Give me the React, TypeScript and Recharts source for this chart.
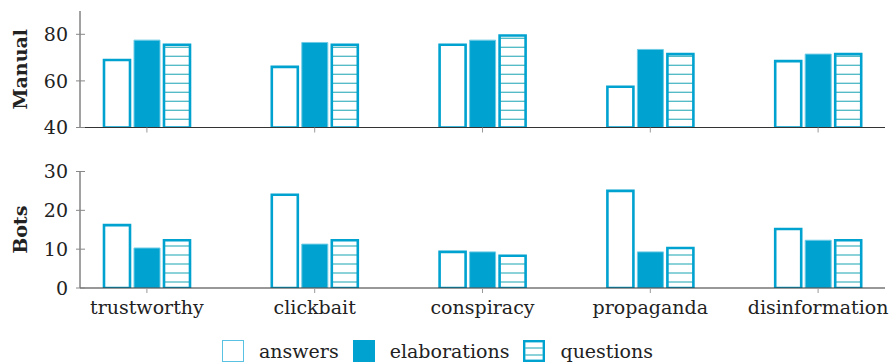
import { BarChart, Bar, XAxis, YAxis } from 'recharts'

const categories = ['trustworthy', 'clickbait', 'conspiracy', 'propaganda', 'disinformation']

const manualAnswers = [69, 66, 75.5, 57.5, 68.5]
const manualElaborations = [77.5, 76.5, 77.5, 73.5, 71.5]
const manualQuestions = [75.5, 75.5, 79.5, 71.5, 71.5]

const botsAnswers = [16.2, 24, 9.3, 25, 15.2]
const botsElaborations = [10.3, 11.3, 9.3, 9.3, 12.3]
const botsQuestions = [12.3, 12.3, 8.3, 10.3, 12.3]

const manualTicks = [40, 60, 80]
const botsTicks = [0, 10, 20, 30]

const seriesNames = ['answers', 'elaborations', 'questions']

const BLUE = '#00a2cf'
const HATCH = '#4cb8c4'
const FONT = '"DejaVu Serif", serif'
const TEXT = '#222'

const toRows = (a: number[], e: number[], q: number[]) =>
  categories.map((name, i) => ({ name, answers: a[i], elaborations: e[i], questions: q[i] }))

const manualRows = toRows(manualAnswers, manualElaborations, manualQuestions)
const botsRows = toRows(botsAnswers, botsElaborations, botsQuestions)

function XTick({ x, y, payload, showLabel }: any) {
  return (
    <g>
      <line x1={x} x2={x} y1={y} y2={y + 5} stroke="#999" />
      {showLabel && (
        <text x={x} y={y + 26} textAnchor="middle" fill={TEXT} fontFamily={FONT} fontSize={19}>
          {payload.value}
        </text>
      )}
    </g>
  )
}

function LeftTick({ x, y, payload }: any) {
  return (
    <g>
      <line x1={x - 4} x2={x + 5} y1={y} y2={y} stroke="#888" />
      <text x={x - 12} y={y} dy="0.35em" textAnchor="end" fill={TEXT} fontFamily={FONT} fontSize={19}>
        {payload.value}
      </text>
    </g>
  )
}

function RightTick({ x, y }: any) {
  return <line x1={x - 5} x2={x + 5} y1={y} y2={y} stroke="#888" />
}

interface PanelProps {
  id: string
  title: string
  rows: typeof manualRows
  domain: [number, number]
  ticks: number[]
  height: number
  marginTop: number
  axisHeight: number
  showLabels: boolean
  hatchOffset: number
}

function Panel({ id, title, rows, domain, ticks, height, marginTop, axisHeight, showLabels, hatchOffset }: PanelProps) {
  const plotMid = marginTop + (height - marginTop - axisHeight) / 2
  return (
    <BarChart
      width={894}
      height={height}
      data={rows}
      margin={{ top: marginTop, right: 9, bottom: 0, left: 0 }}
      barSize={26}
      barGap={4}
    >
      <defs>
        <pattern id={`hatch-${id}`} patternUnits="userSpaceOnUse" width={10} height={9}>
          <rect width={10} height={9} fill="#fff" />
          <line x1={0} x2={10} y1={hatchOffset} y2={hatchOffset} stroke={HATCH} strokeWidth={1.3} />
        </pattern>
      </defs>
      <text
        x={20}
        y={plotMid}
        transform={`rotate(-90 20 ${plotMid})`}
        textAnchor="middle"
        dominantBaseline="central"
        fontFamily={FONT}
        fontWeight="bold"
        fontSize={19}
        fill={TEXT}
      >
        {title}
      </text>
      <XAxis
        dataKey="name"
        height={axisHeight}
        padding={{ left: -17, right: -17 }}
        axisLine={{ stroke: '#333', strokeWidth: 1.2 }}
        tickLine={false}
        tickSize={0}
        tickMargin={0}
        interval={0}
        tick={(p: any) => <XTick {...p} showLabel={showLabels} />}
      />
      <XAxis
        xAxisId="top"
        orientation="top"
        dataKey="name"
        height={0}
        tick={false}
        tickLine={false}
        axisLine={{ stroke: '#666' }}
      />
      <YAxis
        type="number"
        domain={domain}
        ticks={ticks}
        width={80}
        allowDataOverflow
        axisLine={{ stroke: '#444' }}
        tickLine={false}
        tickSize={0}
        tickMargin={0}
        tick={LeftTick}
      />
      <YAxis
        yAxisId="right"
        orientation="right"
        type="number"
        domain={domain}
        ticks={ticks}
        width={0}
        allowDataOverflow
        axisLine={{ stroke: '#555' }}
        tickLine={false}
        tickSize={0}
        tickMargin={0}
        tick={RightTick}
      />
      <Bar dataKey="answers" fill="#fff" stroke={BLUE} strokeWidth={2.6} isAnimationActive={false} />
      <Bar dataKey="elaborations" fill={BLUE} stroke="#6fcbe5" strokeWidth={1} isAnimationActive={false} />
      <Bar dataKey="questions" fill={`url(#hatch-${id})`} stroke={BLUE} strokeWidth={2.6} isAnimationActive={false} />
    </BarChart>
  )
}

function LegendSwatch({ kind }: { kind: string }) {
  return (
    <svg width={22} height={22} style={{ display: 'block' }}>
      {kind === 'answers' && <rect x={0.5} y={0.5} width={21} height={21} fill="#fff" stroke="#59c2e2" />}
      {kind === 'elaborations' && <rect x={0} y={0} width={22} height={22} fill={BLUE} />}
      {kind === 'questions' && (
        <g>
          <rect x={1.2} y={1.2} width={19.6} height={19.6} fill="#fff" stroke={BLUE} strokeWidth={2.4} />
          <line x1={2} x2={20} y1={8} y2={8} stroke={HATCH} strokeWidth={1.3} />
          <line x1={2} x2={20} y1={15} y2={15} stroke={HATCH} strokeWidth={1.3} />
        </g>
      )}
    </svg>
  )
}

export default function App() {
  return (
    <div style={{ position: 'absolute', left: 0, top: 0, width: 894, height: 362, background: '#fff' }}>
      <div style={{ position: 'absolute', left: 0, top: 0 }}>
        <Panel
          id="manual"
          title="Manual"
          rows={manualRows}
          domain={[40, 90]}
          ticks={manualTicks}
          height={140}
          marginTop={11}
          axisHeight={12.5}
          showLabels={false}
          hatchOffset={2.3}
        />
      </div>
      <div style={{ position: 'absolute', left: 0, top: 160 }}>
        <Panel
          id="bots"
          title="Bots"
          rows={botsRows}
          domain={[0, 30]}
          ticks={botsTicks}
          height={170}
          marginTop={11.5}
          axisHeight={42}
          showLabels
          hatchOffset={5}
        />
      </div>
      <div
        style={{
          position: 'absolute',
          left: 222,
          top: 340,
          display: 'flex',
          alignItems: 'center',
          fontFamily: FONT,
          fontSize: 19,
          color: TEXT,
          lineHeight: '22px',
        }}
      >
        {seriesNames.map((name) => (
          <div key={name} style={{ display: 'flex', alignItems: 'center', marginRight: 14 }}>
            <LegendSwatch kind={name} />
            <span style={{ marginLeft: 15 }}>{name}</span>
          </div>
        ))}
      </div>
    </div>
  )
}
